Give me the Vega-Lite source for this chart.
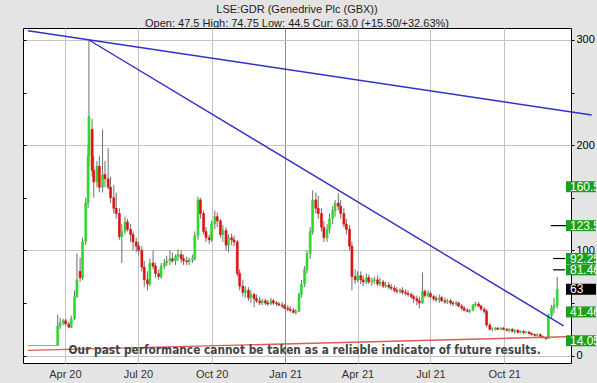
{
"$schema":"https://vega.github.io/schema/vega-lite/v6.json",
"width":548,"height":335,
"autosize":{"type":"none"},
"padding":{"left":23,"top":28,"right":26,"bottom":20},
"background":"#e4e4e4",
"view":{"fill":"white","stroke":"black","strokeWidth":1},
"config":{"font":"Liberation Sans"},
"title":{"text":"LSE:GDR (Genedrive Plc (GBX))","subtitle":"Open: 47.5 High: 74.75 Low: 44.5 Cur: 63.0 (+15.50/+32.63%)","fontSize":11,"fontWeight":"normal","font":"Liberation Sans","color":"#222","subtitleFontSize":11,"subtitleFont":"Liberation Sans","subtitleColor":"#222","subtitlePadding":3,"offset":-1,"anchor":"middle"},
"datasets":{
"c":[
{"d":"2020-02-16","o":9.5,"h":9.5,"l":9.5,"c":9.5},{"d":"2020-02-18","o":9.5,"h":9.5,"l":9.5,"c":9.5},{"d":"2020-02-20","o":9.5,"h":9.5,"l":9.5,"c":9.5},{"d":"2020-02-22","o":9.5,"h":9.5,"l":9.5,"c":9.5},{"d":"2020-02-24","o":9.5,"h":9.5,"l":9.5,"c":9.5},{"d":"2020-02-26","o":9.5,"h":9.5,"l":9.5,"c":9.5},{"d":"2020-02-28","o":9.5,"h":9.5,"l":9.5,"c":9.5},{"d":"2020-03-01","o":9.5,"h":9.5,"l":9.5,"c":9.5},{"d":"2020-03-03","o":9.5,"h":9.5,"l":9.5,"c":9.5},{"d":"2020-03-05","o":9.5,"h":9.5,"l":9.5,"c":9.5},{"d":"2020-03-07","o":9.5,"h":9.5,"l":9.5,"c":9.5},{"d":"2020-03-09","o":9.5,"h":9.5,"l":9.5,"c":9.5},{"d":"2020-03-11","o":9.5,"h":9.5,"l":9.5,"c":9.5},{"d":"2020-03-13","o":9.5,"h":9.5,"l":9.5,"c":9.5},{"d":"2020-03-15","o":9.5,"h":9.5,"l":9.5,"c":9.5},{"d":"2020-03-17","o":9.5,"h":9.5,"l":9.5,"c":9.5},{"d":"2020-03-19","o":9.5,"h":9.5,"l":9.5,"c":9.5},{"d":"2020-03-21","o":9.5,"h":9.5,"l":9.5,"c":9.5},
{"d":"2020-03-23","o":9.5,"h":38.7,"l":9.5,"c":28},
{"d":"2020-03-26","o":28,"h":36,"l":25,"c":31},
{"d":"2020-03-30","o":31,"h":35,"l":29,"c":33},
{"d":"2020-04-02","o":33,"h":35,"l":28,"c":30},
{"d":"2020-04-06","o":30,"h":32,"l":26,"c":27},
{"d":"2020-04-09","o":27,"h":38,"l":26,"c":35},
{"d":"2020-04-13","o":35,"h":62,"l":34,"c":56},
{"d":"2020-04-16","o":56,"h":97,"l":55,"c":72},
{"d":"2020-04-20","o":80,"h":93,"l":70,"c":74},
{"d":"2020-04-23","o":74,"h":112,"l":72,"c":108},
{"d":"2020-04-27","o":108,"h":150,"l":105,"c":145},
{"d":"2020-04-30","o":145,"h":200,"l":140,"c":190},
{"d":"2020-05-01","o":190,"h":300,"l":180,"c":227},
{"d":"2020-05-05","o":215,"h":225,"l":170,"c":176},
{"d":"2020-05-07","o":176,"h":190,"l":150,"c":165},
{"d":"2020-05-11","o":165,"h":185,"l":160,"c":180},
{"d":"2020-05-14","o":180,"h":190,"l":155,"c":160},
{"d":"2020-05-18","o":160,"h":215,"l":155,"c":172},
{"d":"2020-05-21","o":172,"h":185,"l":160,"c":168},
{"d":"2020-05-25","o":168,"h":197,"l":158,"c":160},
{"d":"2020-05-28","o":160,"h":170,"l":145,"c":150},
{"d":"2020-06-01","o":150,"h":162,"l":135,"c":140},
{"d":"2020-06-04","o":140,"h":155,"l":130,"c":135},
{"d":"2020-06-08","o":135,"h":140,"l":110,"c":113},
{"d":"2020-06-11","o":113,"h":125,"l":88,"c":118},
{"d":"2020-06-15","o":118,"h":132,"l":115,"c":127},
{"d":"2020-06-18","o":127,"h":130,"l":118,"c":120},
{"d":"2020-06-22","o":120,"h":125,"l":108,"c":115},
{"d":"2020-06-25","o":115,"h":118,"l":100,"c":108},
{"d":"2020-06-29","o":108,"h":112,"l":98,"c":104},
{"d":"2020-07-02","o":104,"h":108,"l":95,"c":100},
{"d":"2020-07-06","o":100,"h":104,"l":80,"c":84},
{"d":"2020-07-09","o":84,"h":90,"l":65,"c":72},
{"d":"2020-07-13","o":72,"h":80,"l":62,"c":68},
{"d":"2020-07-16","o":68,"h":92,"l":66,"c":88},
{"d":"2020-07-20","o":88,"h":100,"l":82,"c":85},
{"d":"2020-07-23","o":85,"h":88,"l":74,"c":78},
{"d":"2020-07-27","o":78,"h":82,"l":72,"c":75},
{"d":"2020-07-30","o":75,"h":88,"l":73,"c":85},
{"d":"2020-08-03","o":85,"h":92,"l":82,"c":88},
{"d":"2020-08-06","o":88,"h":95,"l":85,"c":90},
{"d":"2020-08-10","o":90,"h":100,"l":86,"c":92},
{"d":"2020-08-13","o":92,"h":98,"l":88,"c":90},
{"d":"2020-08-17","o":90,"h":96,"l":86,"c":94},
{"d":"2020-08-20","o":94,"h":101,"l":90,"c":96},
{"d":"2020-08-24","o":96,"h":100,"l":88,"c":92},
{"d":"2020-08-27","o":92,"h":96,"l":86,"c":90},
{"d":"2020-08-31","o":90,"h":94,"l":86,"c":89},
{"d":"2020-09-03","o":89,"h":93,"l":86,"c":91},
{"d":"2020-09-07","o":91,"h":96,"l":88,"c":92},
{"d":"2020-09-10","o":92,"h":118,"l":90,"c":114},
{"d":"2020-09-14","o":114,"h":151,"l":110,"c":148},
{"d":"2020-09-17","o":148,"h":150,"l":130,"c":135},
{"d":"2020-09-21","o":135,"h":138,"l":115,"c":118},
{"d":"2020-09-24","o":118,"h":122,"l":108,"c":112},
{"d":"2020-09-28","o":112,"h":115,"l":106,"c":110},
{"d":"2020-10-01","o":110,"h":128,"l":108,"c":125},
{"d":"2020-10-05","o":125,"h":138,"l":120,"c":132},
{"d":"2020-10-08","o":132,"h":136,"l":122,"c":128},
{"d":"2020-10-12","o":128,"h":130,"l":112,"c":115},
{"d":"2020-10-15","o":115,"h":124,"l":108,"c":119},
{"d":"2020-10-19","o":119,"h":122,"l":100,"c":105},
{"d":"2020-10-22","o":105,"h":115,"l":98,"c":112},
{"d":"2020-10-26","o":112,"h":116,"l":105,"c":110},
{"d":"2020-10-29","o":110,"h":114,"l":104,"c":108},
{"d":"2020-11-02","o":108,"h":110,"l":75,"c":78},
{"d":"2020-11-05","o":78,"h":82,"l":62,"c":66},
{"d":"2020-11-09","o":66,"h":72,"l":56,"c":60},
{"d":"2020-11-12","o":60,"h":66,"l":55,"c":62},
{"d":"2020-11-16","o":62,"h":65,"l":52,"c":55},
{"d":"2020-11-19","o":55,"h":62,"l":50,"c":58},
{"d":"2020-11-23","o":58,"h":60,"l":46,"c":54},
{"d":"2020-11-26","o":54,"h":58,"l":50,"c":52},
{"d":"2020-11-30","o":52,"h":56,"l":48,"c":50},
{"d":"2020-12-03","o":50,"h":54,"l":48,"c":52},
{"d":"2020-12-07","o":52,"h":54,"l":48,"c":50},
{"d":"2020-12-10","o":50,"h":53,"l":47,"c":49},
{"d":"2020-12-14","o":49,"h":55,"l":48,"c":52},
{"d":"2020-12-17","o":52,"h":54,"l":48,"c":50},
{"d":"2020-12-21","o":50,"h":52,"l":47,"c":49},
{"d":"2020-12-24","o":49,"h":51,"l":47,"c":48},
{"d":"2020-12-28","o":48,"h":51,"l":45,"c":47},
{"d":"2020-12-31","o":47,"h":49,"l":44,"c":45},
{"d":"2021-01-04","o":45,"h":48,"l":42,"c":44},
{"d":"2021-01-07","o":44,"h":47,"l":41,"c":43},
{"d":"2021-01-11","o":43,"h":45,"l":40,"c":41},
{"d":"2021-01-14","o":41,"h":44,"l":39,"c":42},
{"d":"2021-01-18","o":42,"h":60,"l":41,"c":58},
{"d":"2021-01-21","o":58,"h":72,"l":55,"c":68},
{"d":"2021-01-25","o":68,"h":85,"l":65,"c":82},
{"d":"2021-01-28","o":82,"h":100,"l":78,"c":97},
{"d":"2021-02-01","o":97,"h":122,"l":92,"c":118},
{"d":"2021-02-04","o":118,"h":157,"l":115,"c":148},
{"d":"2021-02-08","o":148,"h":155,"l":135,"c":140},
{"d":"2021-02-11","o":140,"h":152,"l":130,"c":135},
{"d":"2021-02-15","o":135,"h":140,"l":118,"c":122},
{"d":"2021-02-18","o":122,"h":128,"l":108,"c":112},
{"d":"2021-02-22","o":112,"h":125,"l":108,"c":120},
{"d":"2021-02-25","o":120,"h":135,"l":116,"c":130},
{"d":"2021-03-01","o":130,"h":142,"l":125,"c":138},
{"d":"2021-03-04","o":138,"h":148,"l":132,"c":145},
{"d":"2021-03-08","o":145,"h":154,"l":138,"c":142},
{"d":"2021-03-11","o":142,"h":148,"l":130,"c":135},
{"d":"2021-03-15","o":135,"h":140,"l":122,"c":125},
{"d":"2021-03-18","o":125,"h":130,"l":115,"c":120},
{"d":"2021-03-22","o":120,"h":124,"l":100,"c":104},
{"d":"2021-03-25","o":104,"h":108,"l":62,"c":75},
{"d":"2021-03-29","o":75,"h":82,"l":68,"c":72},
{"d":"2021-04-01","o":72,"h":80,"l":70,"c":76},
{"d":"2021-04-05","o":76,"h":80,"l":68,"c":72},
{"d":"2021-04-08","o":72,"h":76,"l":66,"c":70},
{"d":"2021-04-12","o":70,"h":78,"l":68,"c":74},
{"d":"2021-04-15","o":74,"h":77,"l":68,"c":70},
{"d":"2021-04-19","o":70,"h":74,"l":66,"c":71},
{"d":"2021-04-22","o":71,"h":75,"l":68,"c":72},
{"d":"2021-04-26","o":72,"h":76,"l":66,"c":68},
{"d":"2021-04-29","o":68,"h":74,"l":66,"c":70},
{"d":"2021-05-03","o":70,"h":72,"l":64,"c":66},
{"d":"2021-05-06","o":66,"h":70,"l":64,"c":67},
{"d":"2021-05-10","o":67,"h":70,"l":63,"c":65},
{"d":"2021-05-13","o":65,"h":68,"l":62,"c":64},
{"d":"2021-05-17","o":64,"h":67,"l":60,"c":62},
{"d":"2021-05-20","o":62,"h":65,"l":59,"c":61},
{"d":"2021-05-24","o":61,"h":64,"l":59,"c":62},
{"d":"2021-05-27","o":62,"h":65,"l":58,"c":60},
{"d":"2021-05-31","o":60,"h":63,"l":57,"c":59},
{"d":"2021-06-03","o":59,"h":62,"l":56,"c":58},
{"d":"2021-06-07","o":58,"h":60,"l":54,"c":56},
{"d":"2021-06-10","o":56,"h":58,"l":50,"c":54},
{"d":"2021-06-14","o":54,"h":57,"l":48,"c":52},
{"d":"2021-06-17","o":52,"h":56,"l":45,"c":50},
{"d":"2021-06-21","o":50,"h":79,"l":49,"c":61},
{"d":"2021-06-24","o":61,"h":63,"l":55,"c":57},
{"d":"2021-06-28","o":57,"h":62,"l":55,"c":59},
{"d":"2021-07-01","o":59,"h":61,"l":54,"c":56},
{"d":"2021-07-05","o":56,"h":58,"l":52,"c":54},
{"d":"2021-07-08","o":54,"h":57,"l":51,"c":53},
{"d":"2021-07-12","o":53,"h":58,"l":50,"c":55},
{"d":"2021-07-15","o":55,"h":57,"l":51,"c":52},
{"d":"2021-07-19","o":52,"h":55,"l":49,"c":51},
{"d":"2021-07-22","o":51,"h":54,"l":49,"c":52},
{"d":"2021-07-26","o":52,"h":54,"l":48,"c":50},
{"d":"2021-07-29","o":50,"h":52,"l":47,"c":49},
{"d":"2021-08-02","o":49,"h":52,"l":47,"c":50},
{"d":"2021-08-05","o":50,"h":51,"l":46,"c":47},
{"d":"2021-08-09","o":47,"h":49,"l":43,"c":45},
{"d":"2021-08-12","o":45,"h":47,"l":42,"c":43},
{"d":"2021-08-16","o":43,"h":45,"l":41,"c":42},
{"d":"2021-08-19","o":42,"h":44,"l":40,"c":43},
{"d":"2021-08-23","o":43,"h":49,"l":42,"c":48},
{"d":"2021-08-26","o":48,"h":51,"l":46,"c":49},
{"d":"2021-08-30","o":49,"h":51,"l":46,"c":47},
{"d":"2021-09-02","o":47,"h":48,"l":43,"c":44},
{"d":"2021-09-06","o":44,"h":46,"l":40,"c":42},
{"d":"2021-09-09","o":42,"h":44,"l":27,"c":29},
{"d":"2021-09-13","o":29,"h":31,"l":24,"c":25},
{"d":"2021-09-16","o":25,"h":27,"l":23,"c":25},
{"d":"2021-09-20","o":25,"h":27,"l":24,"c":26},
{"d":"2021-09-23","o":26,"h":27,"l":24,"c":25},
{"d":"2021-09-27","o":25,"h":27,"l":24,"c":26},
{"d":"2021-09-30","o":26,"h":27,"l":24,"c":25},
{"d":"2021-10-04","o":25,"h":26,"l":23,"c":24},
{"d":"2021-10-07","o":24,"h":26,"l":22,"c":25},
{"d":"2021-10-11","o":25,"h":26,"l":22,"c":23},
{"d":"2021-10-14","o":23,"h":25,"l":21,"c":24},
{"d":"2021-10-18","o":24,"h":25,"l":21,"c":22},
{"d":"2021-10-21","o":22,"h":24,"l":21,"c":23},
{"d":"2021-10-25","o":23,"h":24,"l":20,"c":22},
{"d":"2021-10-28","o":22,"h":23,"l":21,"c":22.5},
{"d":"2021-11-01","o":22.5,"h":23,"l":20,"c":21},
{"d":"2021-11-04","o":21,"h":22,"l":19,"c":20},
{"d":"2021-11-08","o":20,"h":21,"l":18,"c":19},
{"d":"2021-11-11","o":19,"h":21,"l":18,"c":20},
{"d":"2021-11-15","o":20,"h":21,"l":17,"c":18},
{"d":"2021-11-18","o":18,"h":19,"l":16,"c":17},
{"d":"2021-11-22","o":17,"h":18,"l":15,"c":16},
{"d":"2021-11-25","o":16,"h":40,"l":16,"c":38},
{"d":"2021-11-29","o":38,"h":48,"l":35,"c":45},
{"d":"2021-12-02","o":45,"h":55,"l":40,"c":47.5},
{"d":"2021-12-06","o":47.5,"h":74.75,"l":44.5,"c":63}
],
"lines":[
{"id":"a","d":"2020-02-15","v":308.8},{"id":"a","d":"2022-01-18","v":228.7},
{"id":"b","d":"2020-05-01","v":300},{"id":"b","d":"2021-12-14","v":28.2},
{"id":"r","d":"2020-02-15","v":4.9},{"id":"r","d":"2021-12-17","v":17.8}
],
"tags":[
{"d":"2021-12-17","v":160.5,"t":"160.5","k":"g"},
{"d":"2021-12-17","v":123.5,"t":"123.5","k":"g"},
{"d":"2021-12-17","v":92.25,"t":"92.25","k":"g"},
{"d":"2021-12-17","v":81.46,"t":"81.46","k":"g"},
{"d":"2021-12-17","v":63,"t":"63","k":"b"},
{"d":"2021-12-17","v":41.46,"t":"41.46","k":"g"},
{"d":"2021-12-17","v":14.05,"t":"14.05","k":"g"}
],
"targets":[
{"v":123.5,"a":"2021-11-28","b":"2021-12-17"},
{"v":92.25,"a":"2021-12-01","b":"2021-12-16"},
{"v":81.46,"a":"2021-12-01","b":"2021-12-16"}
],
"note":[{"d":"2021-01-25","v":5.2,"t":"Our past performance cannot be taken as a reliable indicator of future results."}]
},
"resolve":{"axis":{"y":"independent"}},
"layer":[
{"data":{"name":"c"},"mark":{"type":"rule","color":"#707070","strokeWidth":1},
 "encoding":{
  "x":{"field":"d","type":"temporal","scale":{"domain":[{"year":2020,"month":2,"date":15},{"year":2021,"month":12,"date":17}]},
   "axis":{"title":null,"format":"%b %y","values":[{"year":2020,"month":4,"date":1},{"year":2020,"month":7,"date":1},{"year":2020,"month":10,"date":1},{"year":2021,"month":1,"date":1},{"year":2021,"month":4,"date":1},{"year":2021,"month":7,"date":1},{"year":2021,"month":10,"date":1}],
   "grid":true,"gridColor":{"condition":{"test":"month(datum.value)==0","value":"#8c8c8c"},"value":"#c4c4c4"},"ticks":false,"domain":false,"labelPadding":5,"labelFontSize":11,"labelColor":"#333","labelFont":"Liberation Sans"}},
  "y":{"field":"l","type":"quantitative","scale":{"domain":[-7.1,311.4],"nice":false,"zero":false},
   "axis":{"orient":"left","title":null,"values":[0,50,100,150,200,250,300],"labels":false,"grid":false,"domain":false,"tickSize":-3,"tickColor":"#000"}},
  "y2":{"field":"h"}}},
{"data":{"name":"c"},"mark":{"type":"bar","size":2,"strokeWidth":0.6},
 "encoding":{
  "x":{"field":"d","type":"temporal"},
  "y":{"field":"o","type":"quantitative","axis":{"orient":"right","title":null,"values":[0,50,100,150,200,250,300],"labelExpr":"datum.value % 100 == 0 ? datum.label : ''","grid":true,"gridColor":"#c4c4c4","gridOpacity":{"condition":{"test":"datum.value % 100 == 0","value":1},"value":0},"tickSize":3,"tickColor":"#000","domain":false,"labelPadding":2,"labelFontSize":11,"labelColor":"#000","labelFont":"Liberation Sans"}},
  "y2":{"field":"c"},
  "fill":{"condition":{"test":"datum.c >= datum.o","value":"#2fd62f"},"value":"#dd1010"},
  "stroke":{"condition":{"test":"datum.c >= datum.o","value":"#2fd62f"},"value":"#dd1010"}}},
{"data":{"name":"lines"},"mark":{"type":"line","strokeWidth":1.4,"clip":false},
 "encoding":{
  "x":{"field":"d","type":"temporal"},
  "y":{"field":"v","type":"quantitative","axis":null},
  "detail":{"field":"id"},
  "color":{"field":"id","type":"nominal","legend":null,"scale":{"domain":["a","b","r"],"range":["#3030c8","#3030c8","#e05a5a"]}}}},
{"data":{"name":"targets"},"mark":{"type":"rule","color":"#000","strokeWidth":1.2},
 "encoding":{
  "x":{"field":"a","type":"temporal"},"x2":{"field":"b"},
  "y":{"field":"v","type":"quantitative","axis":null}}},
{"data":{"name":"tags"},"mark":{"type":"tick","orient":"horizontal","size":30,"thickness":11,"xOffset":15,"clip":false,"opacity":1},
 "encoding":{
  "x":{"field":"d","type":"temporal"},
  "y":{"field":"v","type":"quantitative","axis":null},
  "color":{"condition":{"test":"datum.k == 'b'","value":"#000000"},"value":"#1d9e1d"}}},
{"data":{"name":"tags"},"mark":{"type":"text","align":"left","baseline":"middle","dx":4,"fontSize":12,"font":"Liberation Sans","fill":"white","clip":false},
 "encoding":{
  "x":{"field":"d","type":"temporal"},
  "y":{"field":"v","type":"quantitative","axis":null},
  "text":{"field":"t"}}},
{"data":{"name":"note"},"mark":{"type":"text","align":"center","baseline":"middle","fontSize":11.8,"fontWeight":"bold","font":"DejaVu Sans Condensed, sans-serif","fill":"#444"},
 "encoding":{
  "x":{"field":"d","type":"temporal"},
  "y":{"field":"v","type":"quantitative","axis":null},
  "text":{"field":"t"}}}
]
}
